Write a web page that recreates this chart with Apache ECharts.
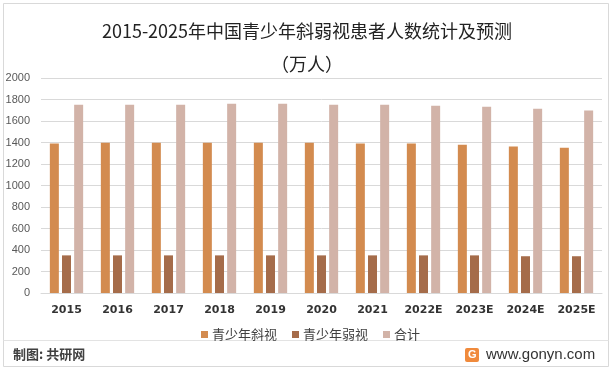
<!DOCTYPE html>
<html><head><meta charset="utf-8">
<script src="https://cdn.jsdelivr.net/npm/echarts@6/dist/echarts.min.js"></script>
<style>html,body{margin:0;padding:0;background:#fff}#c{width:614px;height:372px}</style>
</head><body><div id="c"></div>
<script>
const categories = ['2015','2016','2017','2018','2019','2020','2021','2022E','2023E','2024E','2025E'];
const strabismus = [1390,1398,1398,1398,1398,1398,1390,1390,1380,1362,1352];
const amblyopia = [350,350,350,350,350,350,350,350,350,342,342];
const total = [1752,1752,1752,1760,1760,1752,1752,1742,1733,1714,1697];
const seriesNames = ['青少年斜视','青少年弱视','合计'];
const colors = ['#D38B4F','#A56C4A','#D2B3A8'];

const chart = echarts.init(document.getElementById('c'));
const fontCN = '"Noto Sans CJK SC", "Liberation Sans", sans-serif';
chart.setOption({
  backgroundColor:'#fff',
  animation:false,
  title:{
    text:'2015-2025年中国青少年斜弱视患者人数统计及预测\n（万人）',
    left:'center', top:10,
    textStyle:{fontSize:18,fontWeight:'normal',color:'#222',fontFamily:fontCN,lineHeight:33}
  },
  legend:{
    data:seriesNames, left:196, top:323, itemWidth:7, itemHeight:7, itemGap:15,
    icon:'rect',
    textStyle:{fontSize:13,color:'#404040',fontFamily:fontCN,padding:[0,0,0,-1]}
  },
  grid:{left:41,right:12,top:78,bottom:79},
  xAxis:{
    type:'category', data:categories,
    axisLine:{show:true,lineStyle:{color:'#d9d9d9'}},
    axisTick:{show:false},
    axisLabel:{margin:12,fontSize:11,fontWeight:'bold',color:'#333',fontFamily:'"DejaVu Sans", sans-serif'}
  },
  yAxis:{
    type:'value', min:0, max:2000, interval:200,
    axisLine:{show:false}, axisTick:{show:false},
    splitLine:{lineStyle:{color:'#d9d9d9'}},
    axisLabel:{margin:11,fontSize:11,color:'#595959',fontFamily:'"Liberation Sans", sans-serif',formatter:v=>String(v)}
  },
  series:[
    {name:seriesNames[0],type:'bar',data:strabismus,barWidth:9,barGap:'35%',itemStyle:{color:colors[0]}},
    {name:seriesNames[1],type:'bar',data:amblyopia,barWidth:9,barGap:'35%',itemStyle:{color:colors[1]}},
    {name:seriesNames[2],type:'bar',data:total,barWidth:9,barGap:'35%',itemStyle:{color:colors[2]}}
  ],
  graphic:[
    {type:'rect',shape:{x:3.5,y:3.5,width:605,height:363},style:{fill:'none',stroke:'#d9d9d9',lineWidth:1},silent:true},
    {type:'line',shape:{x1:3.5,y1:340.5,x2:608.5,y2:340.5},style:{stroke:'#e3e3e3',lineWidth:1},silent:true},
    {type:'text',left:13,top:348,style:{text:'制图: 共研网',fontSize:13,fontWeight:'bold',fill:'#404040',fontFamily:fontCN}},
    {type:'rect',shape:{x:465,y:348,width:14,height:14,r:2},style:{fill:'#F08A3C'},silent:true},
    {type:'text',left:468,top:349,style:{text:'G',fontSize:11,fontWeight:'bold',fill:'#fff',fontFamily:'"Liberation Sans", sans-serif'}},
    {type:'text',left:486,top:347,style:{text:'www.gonyn.com',fontSize:15,fill:'#333',fontFamily:'"Liberation Sans", sans-serif'}}
  ]
});
</script></body></html>
